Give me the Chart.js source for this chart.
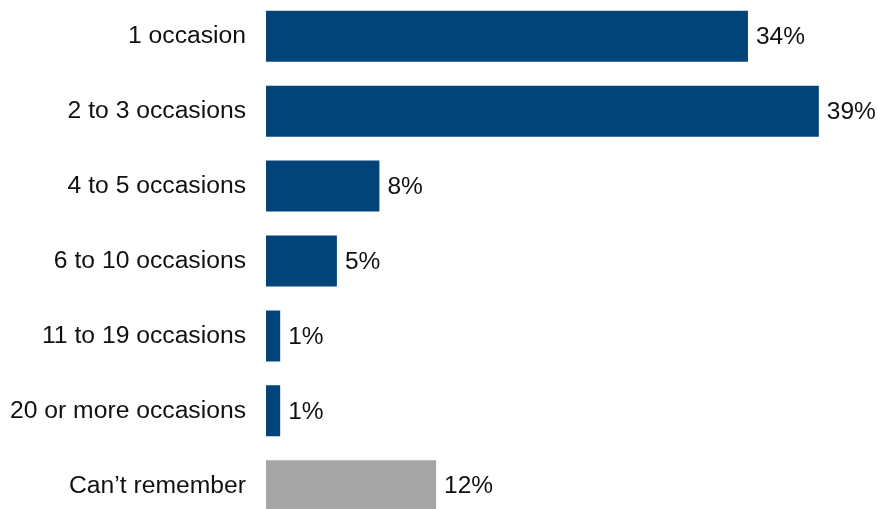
<!DOCTYPE html>
<html>
<head>
<meta charset="utf-8">
<script src="https://cdn.jsdelivr.net/npm/chart.js@4/dist/chart.umd.min.js"></script>
<style>
  html, body { margin: 0; padding: 0; background: #fff; overflow: hidden; }
  #wrap { position: absolute; left: 0; top: -36px; width: 878px; height: 594px; }
</style>
</head>
<body>
<div id="wrap"><canvas id="grafico"></canvas></div>
<script>
// Categorias e valores (%)
const categorias = ['1 occasion', '2 to 3 occasions', '4 to 5 occasions', '6 to 10 occasions',
                    '11 to 19 occasions', '20 or more occasions', 'Can\u2019t remember'];
const valores = [34, 39, 8, 5, 1, 1, 12];
const cores = ['#02437A', '#02437A', '#02437A', '#02437A', '#02437A', '#02437A', '#A6A6A6'];

const fonte = "'Liberation Sans', Arial, sans-serif";

// Escreve o valor à direita de cada barra
const rotulosValor = {
    id: 'rotulosValor',
    afterDatasetsDraw(chart) {
        const ctx = chart.ctx;
        const meta = chart.getDatasetMeta(0);
        ctx.save();
        ctx.font = '24.5px ' + fonte;
        ctx.fillStyle = '#111';
        ctx.textAlign = 'left';
        ctx.textBaseline = 'middle';
        meta.data.forEach((bar, i) => {
            ctx.fillText(valores[i] + '%', bar.x + 8, bar.y + 1);
        });
        ctx.restore();
    }
};

new Chart(document.getElementById('grafico'), {
    type: 'bar',
    data: {
        labels: categorias,
        datasets: [{
            data: valores,
            backgroundColor: cores,
            barPercentage: 0.68,
            categoryPercentage: 1
        }]
    },
    options: {
        indexAxis: 'y',
        responsive: true,
        maintainAspectRatio: false,
        animation: false,
        layout: { padding: { left: 0, right: 45, top: 0, bottom: 0 } },
        plugins: {
            legend: { display: false },
            tooltip: { enabled: false }
        },
        scales: {
            x: {
                display: false,
                min: 0,
                max: 40
            },
            y: {
                grid: { display: false, drawTicks: false },
                border: { display: false },
                ticks: {
                    color: '#111',
                    padding: 20,
                    font: { family: fonte, size: 24.7 }
                },
                afterFit(scale) { scale.width = 266; }
            }
        }
    },
    plugins: [rotulosValor]
});
</script>
</body>
</html>
